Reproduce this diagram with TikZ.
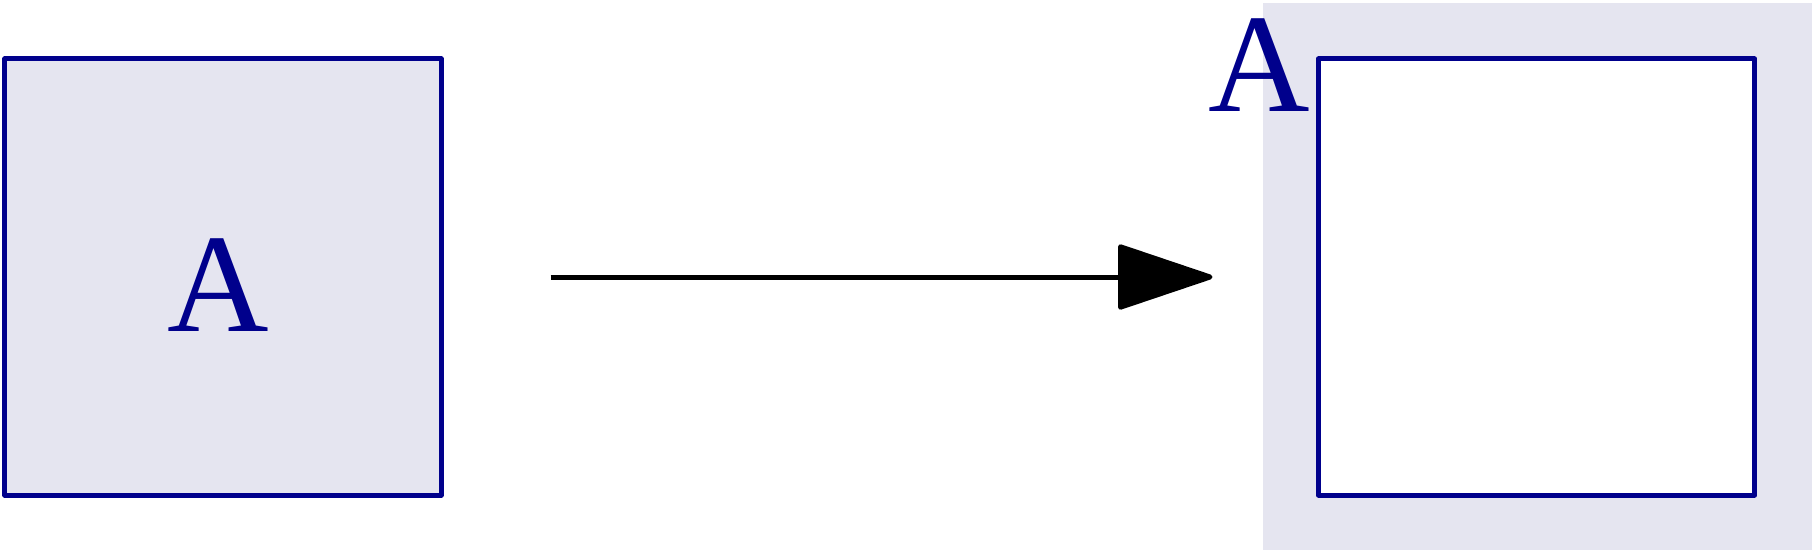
\documentclass[tikz,border=0pt]{standalone}
\usepackage{fontspec}
\setmainfont{Liberation Serif}
\usetikzlibrary{arrows.meta}
\usetikzlibrary{positioning}

\definecolor{lav}{RGB}{229,229,240}
\definecolor{dkblue}{RGB}{0,0,140}

\tikzset{
  sq/.style={rectangle,draw=dkblue,line width=0.05cm,line join=round,minimum width=4.36cm,minimum height=4.36cm,inner sep=0pt},
  lbl/.style={font=\fontsize{40}{48}\selectfont,text=dkblue,anchor=base,inner sep=0pt},
  conn/.style={line width=0.05cm,-{Triangle[length=1cm,width=0.66cm,round]}}
}

\begin{document}
\begin{tikzpicture}
\useasboundingbox (0,0) rectangle (18.14,5.54);
\fill[lav] (12.63,0.04) rectangle (18.12,5.51);
\node[sq,fill=lav] (src) at (2.23,2.77) {};
\node[sq,fill=white] (dst) at (15.365,2.77) {};
\node[lbl] (srcA) at (2.18,2.23) {A};
\node[lbl] (dstA) at (12.595,4.42) {A};

\draw[conn,shorten <=1.07cm,shorten >=1.035cm] (src) -- (dst);
\end{tikzpicture}
\end{document}
